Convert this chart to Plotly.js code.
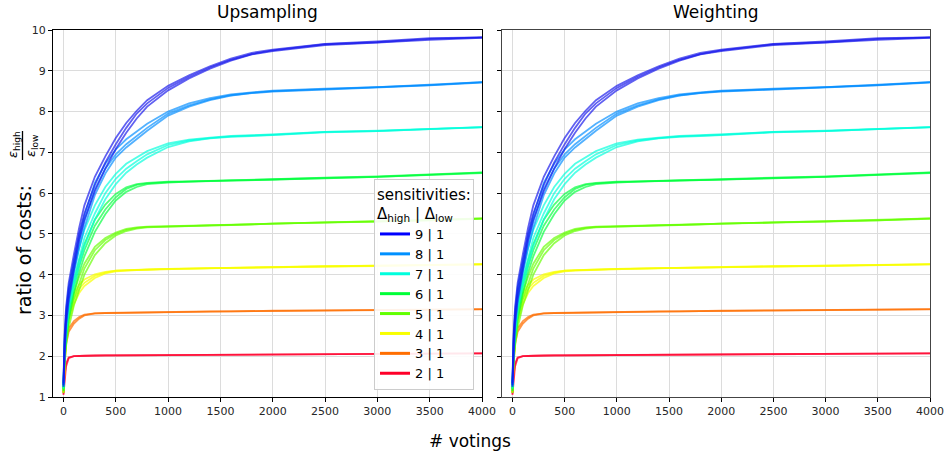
<!DOCTYPE html>
<html>
<head>
<meta charset="utf-8">
<script src="https://cdn.plot.ly/plotly-3.0.1.min.js"></script>
<style>html,body{margin:0;padding:0;background:#fff;}#chart{width:947px;height:457px;}</style>
</head>
<body>
<div id="chart"></div>
<script>
// x positions (# votings) at which the runs were read
const votings = [0, 10, 25, 50, 100, 150, 200, 300, 400, 500, 600, 700, 800, 1000, 1200, 1400, 1600, 1800, 2000, 2500, 3000, 3500, 4000];

// legend labels (sensitivities Δhigh | Δlow)
const sensLabels = ["9 | 1", "8 | 1", "7 | 1", "6 | 1", "5 | 1", "4 | 1", "3 | 1", "2 | 1"];
const sensColors = ["#0000ff", "#0090ff", "#00ffdd", "#00ff37", "#61ff00", "#f8ff00", "#ff6e00", "#ff0029"];
const runColors  = ["rgba(20,20,235,0.68)", "rgba(0,140,255,0.68)", "rgba(0,255,220,0.68)", "rgba(0,255,60,0.68)",
                    "rgba(100,255,0,0.68)", "rgba(248,255,0,0.72)", "rgba(255,110,0,0.72)", "rgba(255,0,45,0.72)"];

// runs per sensitivity: ratio of costs
const runs9 = [
  [1.3, 2.3, 3.0, 3.6, 4.3, 5.0, 5.5, 6.2, 6.75, 7.2, 7.6, 7.95, 8.2, 8.58, 8.85, 9.08, 9.27, 9.41, 9.5, 9.65, 9.7, 9.78, 9.82],
  [1.35, 2.5, 3.2, 3.8, 4.5, 5.15, 5.7, 6.4, 6.9, 7.35, 7.72, 8.02, 8.28, 8.63, 8.89, 9.11, 9.3, 9.44, 9.52, 9.66, 9.72, 9.8, 9.82],
  [1.25, 2.1, 2.8, 3.4, 4.1, 4.85, 5.35, 6.05, 6.6, 7.08, 7.48, 7.83, 8.12, 8.52, 8.81, 9.05, 9.25, 9.4, 9.48, 9.63, 9.69, 9.76, 9.81]
];
const runs8 = [
  [1.3, 2.2, 2.9, 3.5, 4.2, 4.8, 5.3, 6.1, 6.6, 6.95, 7.2, 7.4, 7.6, 7.95, 8.15, 8.3, 8.4, 8.46, 8.5, 8.55, 8.6, 8.65, 8.72],
  [1.3, 2.4, 3.1, 3.7, 4.35, 4.95, 5.45, 6.25, 6.72, 7.07, 7.32, 7.52, 7.7, 8.0, 8.2, 8.33, 8.42, 8.47, 8.51, 8.56, 8.6, 8.66, 8.72],
  [1.25, 2.1, 2.7, 3.3, 4.05, 4.65, 5.15, 5.95, 6.48, 6.87, 7.12, 7.33, 7.53, 7.9, 8.12, 8.28, 8.39, 8.45, 8.49, 8.54, 8.59, 8.64, 8.71]
];
const runs7 = [
  [1.25, 2.1, 2.7, 3.3, 3.9, 4.4, 4.9, 5.5, 6.0, 6.35, 6.6, 6.78, 6.95, 7.18, 7.29, 7.35, 7.39, 7.41, 7.43, 7.5, 7.52, 7.57, 7.62],
  [1.3, 2.3, 2.9, 3.5, 4.1, 4.65, 5.1, 5.7, 6.15, 6.47, 6.72, 6.88, 7.03, 7.22, 7.31, 7.36, 7.4, 7.42, 7.44, 7.5, 7.53, 7.58, 7.62],
  [1.2, 2.0, 2.5, 3.1, 3.75, 4.25, 4.7, 5.35, 5.85, 6.22, 6.5, 6.7, 6.87, 7.13, 7.27, 7.34, 7.38, 7.4, 7.42, 7.49, 7.52, 7.57, 7.61]
];
const runs6 = [
  [1.2, 2.0, 2.6, 3.1, 3.7, 4.2, 4.6, 5.2, 5.6, 5.9, 6.1, 6.2, 6.24, 6.27, 6.28, 6.3, 6.31, 6.32, 6.33, 6.37, 6.4, 6.45, 6.5],
  [1.25, 2.15, 2.8, 3.3, 3.85, 4.35, 4.75, 5.35, 5.72, 5.98, 6.14, 6.22, 6.25, 6.28, 6.29, 6.3, 6.31, 6.32, 6.34, 6.38, 6.41, 6.46, 6.51],
  [1.15, 1.9, 2.4, 2.9, 3.55, 4.05, 4.45, 5.05, 5.48, 5.82, 6.03, 6.15, 6.22, 6.26, 6.28, 6.29, 6.3, 6.32, 6.33, 6.36, 6.4, 6.44, 6.49]
];
const runs5 = [
  [1.15, 1.9, 2.4, 2.9, 3.4, 3.8, 4.15, 4.6, 4.85, 5.0, 5.1, 5.15, 5.17, 5.18, 5.2, 5.21, 5.22, 5.24, 5.25, 5.28, 5.3, 5.33, 5.38],
  [1.2, 2.05, 2.6, 3.1, 3.55, 3.95, 4.27, 4.68, 4.9, 5.03, 5.12, 5.16, 5.18, 5.19, 5.2, 5.21, 5.23, 5.24, 5.25, 5.28, 5.31, 5.34, 5.38],
  [1.1, 1.8, 2.25, 2.7, 3.25, 3.65, 4.0, 4.48, 4.77, 4.96, 5.07, 5.13, 5.16, 5.18, 5.19, 5.21, 5.22, 5.23, 5.25, 5.27, 5.3, 5.33, 5.37]
];
const runs4 = [
  [1.15, 1.9, 2.5, 3.0, 3.4, 3.65, 3.8, 3.97, 4.05, 4.1, 4.11, 4.12, 4.13, 4.14, 4.15, 4.16, 4.17, 4.18, 4.19, 4.2, 4.22, 4.23, 4.25],
  [1.2, 2.05, 2.65, 3.12, 3.52, 3.75, 3.88, 4.01, 4.07, 4.1, 4.11, 4.12, 4.13, 4.14, 4.15, 4.16, 4.17, 4.18, 4.19, 4.21, 4.22, 4.24, 4.26],
  [1.1, 1.8, 2.35, 2.85, 3.28, 3.55, 3.72, 3.92, 4.03, 4.08, 4.1, 4.11, 4.12, 4.14, 4.15, 4.16, 4.17, 4.18, 4.19, 4.2, 4.21, 4.23, 4.25]
];
const runs3 = [
  [1.1, 1.8, 2.3, 2.6, 2.8, 2.92, 3.0, 3.05, 3.055, 3.06, 3.065, 3.07, 3.075, 3.08, 3.09, 3.095, 3.1, 3.105, 3.11, 3.12, 3.13, 3.14, 3.15],
  [1.12, 1.9, 2.4, 2.68, 2.86, 2.96, 3.02, 3.05, 3.06, 3.065, 3.07, 3.075, 3.08, 3.085, 3.09, 3.1, 3.1, 3.11, 3.115, 3.125, 3.135, 3.145, 3.155]
];
const runs2 = [
  [1.05, 1.4, 1.75, 1.95, 2.0, 2.005, 2.01, 2.015, 2.02, 2.02, 2.022, 2.025, 2.027, 2.03, 2.035, 2.04, 2.042, 2.045, 2.05, 2.055, 2.06, 2.065, 2.07],
  [1.08, 1.5, 1.82, 1.97, 2.0, 2.01, 2.012, 2.018, 2.02, 2.022, 2.025, 2.027, 2.03, 2.032, 2.036, 2.04, 2.043, 2.046, 2.05, 2.056, 2.06, 2.066, 2.07]
];

const allRuns = [runs9, runs8, runs7, runs6, runs5, runs4, runs3, runs2];
const xTicks = [0, 500, 1000, 1500, 2000, 2500, 3000, 3500, 4000];
const yTicks = [1, 2, 3, 4, 5, 6, 7, 8, 9, 10];

const traces = [];
// legend entries
sensLabels.forEach((lab, i) => {
  traces.push({x: [null], y: [null], mode: 'lines', name: lab, line: {color: sensColors[i], width: 3},
               xaxis: 'x', yaxis: 'y', showlegend: true, hoverinfo: 'skip'});
});
// runs drawn from bottom (2|1) to top so blue is on top
[['x', 'y'], ['x2', 'y2']].forEach(ax => {
  for (let i = allRuns.length - 1; i >= 0; i--) {
    allRuns[i].forEach(r => {
      traces.push({x: votings, y: r, mode: 'lines', line: {color: runColors[i], width: 1.8},
                   xaxis: ax[0], yaxis: ax[1], showlegend: false});
    });
  }
});

const axCommon = {
  showgrid: true, gridcolor: '#dcdcdc', gridwidth: 1, zeroline: false,
  showline: true, linecolor: '#000', linewidth: 1, mirror: true,
  ticks: 'outside', ticklen: 4, tickcolor: '#000',
  tickfont: {size: 11, color: '#262626', family: 'DejaVu Sans'}
};
const W = 877, H = 367;
const px = v => (v - 53) / W, py = v => (397 - v) / H;

const layout = {
  width: 947, height: 457,
  margin: {l: 53, r: 17, t: 30, b: 60},
  paper_bgcolor: '#fff', plot_bgcolor: '#fff',
  font: {family: 'DejaVu Sans', color: '#000'},
  xaxis: Object.assign({}, axCommon, {domain: [0, px(482)], range: [-100, 4000], tickvals: xTicks}),
  yaxis: Object.assign({}, axCommon, {range: [1, 10], tickvals: yTicks}),
  xaxis2: Object.assign({}, axCommon, {domain: [px(502), 1], range: [-100, 4000], tickvals: xTicks, anchor: 'y2', linecolor: '#444'}),
  yaxis2: Object.assign({}, axCommon, {range: [1, 10], tickvals: yTicks, anchor: 'x2', showticklabels: false, linecolor: '#444'}),
  showlegend: true,
  legend: {
    x: px(474), xanchor: 'right', y: py(390), yanchor: 'bottom',
    bgcolor: 'rgba(255,255,255,0.9)', bordercolor: '#cccccc', borderwidth: 1,
    font: {size: 13, family: 'DejaVu Sans', color: '#000'},
    title: {text: 'sensitivities:<br>Δ<sub>high</sub> | Δ<sub>low</sub>', font: {size: 15, family: 'DejaVu Sans'}, side: 'top'},
    itemwidth: 30, tracegroupgap: 0
  },
  annotations: [
    {text: 'Upsampling', xref: 'paper', yref: 'paper', x: px(267), y: py(12), showarrow: false, font: {size: 17}, xanchor: 'center', yanchor: 'middle'},
    {text: 'Weighting', xref: 'paper', yref: 'paper', x: px(716), y: py(12), showarrow: false, font: {size: 17}, xanchor: 'center', yanchor: 'middle'},
    {text: '# votings', xref: 'paper', yref: 'paper', x: px(470), y: py(441), showarrow: false, font: {size: 17}, xanchor: 'center', yanchor: 'middle'},
    {text: 'ratio of costs:', xref: 'paper', yref: 'paper', x: px(24), y: py(250), showarrow: false, textangle: -90, font: {size: 19}, xanchor: 'center', yanchor: 'middle'},
    {text: '<i>ε</i><sub>high</sub>', xref: 'paper', yref: 'paper', x: px(13), y: py(145), showarrow: false, textangle: -90, font: {size: 13}, xanchor: 'center', yanchor: 'middle'},
    {text: '<i>ε</i><sub>low</sub>', xref: 'paper', yref: 'paper', x: px(31), y: py(146), showarrow: false, textangle: -90, font: {size: 13}, xanchor: 'center', yanchor: 'middle'}
  ],
  shapes: [
    {type: 'line', xref: 'paper', yref: 'paper', x0: px(22.5), x1: px(22.5), y0: py(131), y1: py(160), line: {color: '#000', width: 1.3}}
  ]
};

Plotly.newPlot('chart', traces, layout, {displayModeBar: false, staticPlot: true});
</script>
</body>
</html>
